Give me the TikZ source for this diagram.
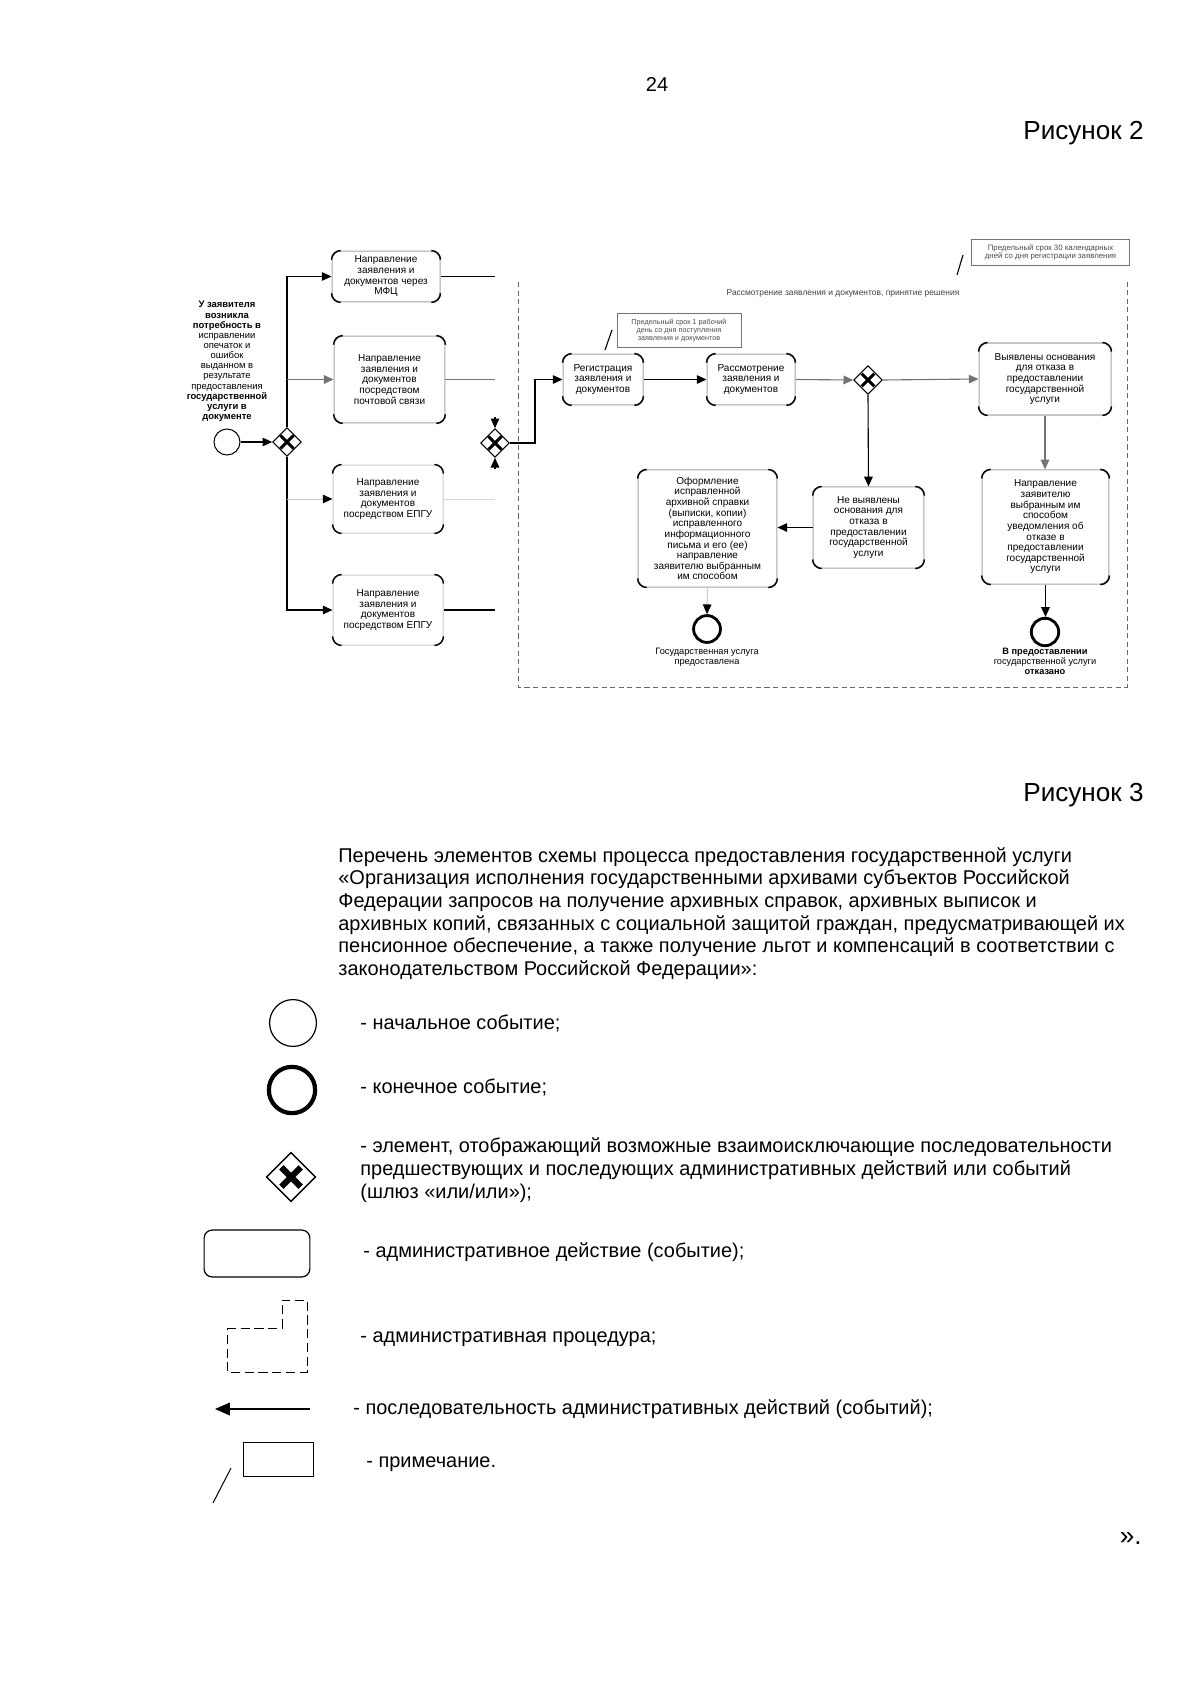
\documentclass[tikz,border=0pt]{standalone}
\usepackage{fontspec}
\setmainfont{Liberation Sans}
\usetikzlibrary{arrows.meta,shapes.geometric,calc}
\newcommand\bxr{1.6mm}
\newcommand\boxcorners[1]{%
  \draw[cornerline] ([yshift=-\bxr]#1.north west) arc[start angle=180,end angle=90,radius=\bxr];
  \draw[cornerline] ([xshift=-\bxr]#1.north east) arc[start angle=90,end angle=0,radius=\bxr];
  \draw[cornerline] ([yshift=\bxr]#1.south east) arc[start angle=0,end angle=-90,radius=\bxr];
  \draw[cornerline] ([xshift=\bxr]#1.south west) arc[start angle=270,end angle=180,radius=\bxr];}
% #1 node, #2 line width, #3 half extent
\newcommand\gwcross[3]{%
  \draw[line width=#2] ([xshift=-#3,yshift=-#3]#1.center) -- ([xshift=#3,yshift=#3]#1.center);
  \draw[line width=#2] ([xshift=-#3,yshift=#3]#1.center) -- ([xshift=#3,yshift=-#3]#1.center);}
\begin{document}
\begin{tikzpicture}[x=0.175mm,y=-0.175mm,
  act/.style={draw=black!35, line width=0.5pt, rounded corners=\bxr, align=center, inner sep=1pt,
    font=\fontsize{5}{5.3}\selectfont},
  cornerline/.style={line width=0.7pt, black},
  gw/.style={diamond, draw, line width=0.5pt, minimum width=5mm, minimum height=5mm, inner sep=0pt, aspect=1},
  flow/.style={line width=0.55pt, -{Triangle[length=1.7mm,width=1.5mm]}},
  flowgray/.style={flow, draw=black!55},
  flowfaint/.style={line width=0.5pt, draw=black!20, -{Triangle[length=1.7mm,width=1.5mm,color=black]}},
  plain/.style={line width=0.55pt},
  plaingray/.style={line width=0.55pt, draw=black!55},
  startev/.style={circle, draw, line width=0.5pt, inner sep=0pt},
  endev/.style={circle, draw, line width=1.4pt, inner sep=0pt},
  notebox/.style={draw=black!55, line width=0.5pt, align=center, inner sep=0.5pt},
  procline/.style={draw=black!60, line width=0.5pt, dash pattern=on 0.9mm off 0.6mm},
  legtext/.style={anchor=base west, inner sep=0pt, font=\fontsize{9.93}{11.3}\selectfont, align=left},
  lbl/.style={align=center, inner sep=0pt}
]
\useasboundingbox[fill=white] (0,0) rectangle (1200,1697);

% ---------- header ----------
\node[anchor=base, inner sep=0pt, font=\fontsize{10}{12}\selectfont] (pnum) at (657,92) {24};
\node[anchor=base east, inner sep=0pt, font=\fontsize{13}{15}\selectfont] (fig2) at (1144,140) {Рисунок 2};

% ---------- left part ----------
\node[lbl, font=\fontsize{4.7}{5.05}\selectfont] (need) at (227,361.5)
  {\textbf{У заявителя}\\\textbf{возникла}\\\textbf{потребность в}\\исправлении\\опечаток и\\ошибок\\выданном в\\результате\\предоставления\\\textbf{государственной}\\\textbf{услуги в}\\\textbf{документе}};
\node[startev, minimum size=4.55mm] (st) at (227,442) {};
\node[gw] (g1) at (287,442) {};
\gwcross{g1}{1.5pt}{1.15mm}

\node[act, minimum width=18.9mm, minimum height=8.9mm] (mfc) at (386,276.5)
  {Направление\\заявления и\\документов через\\МФЦ};
\node[act, minimum width=19.4mm, minimum height=15.2mm] (post) at (389.5,379.5)
  {Направление\\заявления  и\\документов\\посредством\\почтовой связи};
\node[act, minimum width=19.25mm, minimum height=11.9mm, draw=black!20] (epgu1) at (388,499)
  {Направление\\заявления и\\документов\\посредством ЕПГУ};
\node[act, minimum width=19.25mm, minimum height=12.25mm, draw=black!20] (epgu2) at (388,610)
  {Направление\\заявления и\\документов\\посредством ЕПГУ};
\foreach \b in {mfc,post,epgu1,epgu2} {\boxcorners{\b}}

\draw[flow] (st) -- (g1);
\draw[flow] (g1.north) |- (mfc.west);
\draw[flow] (g1.south) |- (epgu2.west);
\draw[flowgray] (g1.north |- post.west) -- (post.west);
\draw[flowfaint] (g1.south |- epgu1.west) -- (epgu1.west);

\coordinate (jx) at (495,0);
\coordinate (tx) at (535,0);
\node[gw] (g2) at (495,443) {};
\gwcross{g2}{1.5pt}{1.15mm}
\draw[plain] (mfc.east) -- (mfc.east -| jx);
\draw[plaingray] (post.east) -- (post.east -| jx);
\draw[line width=0.5pt, draw=black!15] (epgu1.east) -- (epgu1.east -| jx);
\draw[plain] (epgu2.east) -- (epgu2.east -| jx);
\draw[flow] ([yshift=2mm]g2.north) -- (g2.north);
\draw[flow] ([yshift=-2mm]g2.south) -- (g2.south);

% ---------- procedure ----------
\coordinate (pa) at (518,282);
\coordinate (pb) at (518,687);
\coordinate (pc) at (1127,687);
\coordinate (pd) at (1127,282);
\draw[procline] (pa) -- (pb) -- (pc) -- (pd);
\node[lbl, font=\fontsize{4.2}{5}\selectfont, text=black!75] (ptitle) at (843,293)
  {Рассмотрение заявления и документов, принятие решения};

\node[notebox, minimum width=21.7mm, minimum height=5.8mm, font=\fontsize{3.6}{3.8}\selectfont, text=black!70] (note1) at (679,330.5)
  {Предельный срок 1 рабочий\\день со дня поступления\\заявления и документов};
\coordinate (n1a) at (605,350);
\coordinate (n1b) at (612,330);
\draw[plain] (n1a) -- (n1b);

\node[notebox, minimum width=27.8mm, minimum height=4.4mm, font=\fontsize{3.9}{4.1}\selectfont, text=black!70] (note2) at (1050.5,252.5)
  {Предельный срок 30 календарных\\дней со дня регистрации заявления};
\coordinate (n2a) at (957,275);
\coordinate (n2b) at (963,255);
\draw[plain] (n2a) -- (n2b);

\node[act, minimum width=14mm, minimum height=8.9mm] (reg) at (603,379.5)
  {Регистрация\\заявления и\\документов};
\node[act, minimum width=15.4mm, minimum height=8.9mm] (rass) at (751,379.5)
  {Рассмотрение\\заявления и\\документов};
\node[gw] (g3) at (868,380) {};
\gwcross{g3}{1.5pt}{1.1mm}
\node[act, minimum width=23.1mm, minimum height=12.6mm] (vyav) at (1045,379)
  {Выявлены основания\\для отказа в\\предоставлении\\государственной\\услуги};
\node[act, minimum width=19.4mm, minimum height=14.2mm] (nevyav) at (868.5,527.5)
  {Не выявлены\\основания для\\отказа в\\предоставлении\\государственной\\услуги};
\node[act, minimum width=24.3mm, minimum height=20.5mm] (oform) at (707.5,528.5)
  {Оформление\\исправленной\\архивной справки\\(выписки, копии)\\исправленного\\информационного\\письма и его (ее)\\направление\\заявителю выбранным\\им способом};
\node[act, minimum width=22.2mm, minimum height=20mm] (napr) at (1045.5,527)
  {Направление\\заявителю\\выбранным им\\способом\\уведомления об\\отказе в\\предоставлении\\государственной\\услуги};
\foreach \b in {reg,rass,vyav,nevyav,oform,napr} {\boxcorners{\b}}

\node[endev, minimum size=4.7mm] (end1) at (707,629) {};
\node[endev, minimum size=4.8mm] (end2) at (1045,632) {};
\node[lbl, font=\fontsize{4.6}{5}\selectfont] (end1l) at (707,657)
  {Государственная услуга\\предоставлена};
\node[lbl, font=\fontsize{4.6}{5}\selectfont] (end2l) at (1045,661.5)
  {\textbf{В предоставлении}\\государственной услуги\\\textbf{отказано}};

\draw[flow] (g2.east) -- (g2.east -| tx) |- (reg.west);
\draw[flow] (reg.east) -- (rass.west);
\draw[flowgray] (rass.east) -- (g3.west);
\draw[flowgray] (g3.east) -- (vyav.west);
\draw[flow] (g3.south) -- (nevyav.north);
\draw[flow] (nevyav.west) -- (nevyav.west -| oform.east);
\draw[flowfaint] (oform.south) -- (end1.north);
\draw[flowgray] (vyav.south) -- (vyav.south |- napr.north);
\draw[flow] (napr.south) -- (napr.south |- end2.north);

% ---------- figure 3 ----------
\node[anchor=base east, inner sep=0pt, font=\fontsize{13}{15}\selectfont] (fig3) at (1144,801) {Рисунок 3};
% anchor base = baseline of the last line
\node[legtext] (intro) at (338,975.5)
  {Перечень элементов схемы процесса предоставления государственной услуги\\
   «Организация исполнения государственными архивами субъектов Российской\\
   Федерации запросов на получение архивных справок, архивных выписок и\\
   архивных копий, связанных с социальной защитой граждан, предусматривающей их\\
   пенсионное обеспечение, а также получение льгот и компенсаций в соответствии с\\
   законодательством Российской Федерации»:};

\node[startev, minimum size=8.2mm, line width=0.6pt] (lstart) at (293,1023) {};
\node[legtext] (t1) at (360,1029) {- начальное событие;};

\node[endev, minimum size=8.1mm, line width=2.1pt] (lend) at (292,1090) {};
\node[legtext] (t2) at (360,1093) {- конечное событие;};

\node[gw, minimum width=8.6mm, minimum height=8.6mm, line width=0.7pt] (lgw) at (291,1177) {};
\gwcross{lgw}{3pt}{1.7mm}
\node[legtext] (t3) at (360,1198)
  {- элемент, отображающий возможные взаимоисключающие последовательности\\
   предшествующих и последующих административных действий или событий\\
   (шлюз «или/или»);};

\node[draw, line width=0.6pt, rounded corners=1.4mm, minimum width=18.5mm, minimum height=8.2mm, inner sep=0pt] (lact) at (257,1253.5) {};
\node[legtext] (t4) at (363,1257) {- административное действие (событие);};

\coordinate (q1) at (227,1328);
\coordinate (q2) at (282,1328);
\coordinate (q3) at (282,1300);
\coordinate (q4) at (307,1300);
\coordinate (q5) at (307,1372);
\coordinate (q6) at (227,1372);
\draw[line width=0.5pt, dash pattern=on 1.6mm off 0.8mm] (q1) -- (q2) -- (q3) -- (q4) -- (q5) -- (q6) -- cycle;
\node[legtext] (t5) at (360,1342) {- административная процедура;};

\coordinate (la1) at (310,1409);
\coordinate (la2) at (215,1409);
\draw[line width=0.8pt, -{Triangle[length=2.6mm,width=2.2mm]}] (la1) -- (la2);
\node[legtext] (t6) at (353,1414) {- последовательность административных действий (событий);};

\node[draw, line width=0.5pt, minimum width=12.25mm, minimum height=6.1mm, inner sep=0pt] (lnote) at (278,1459.5) {};
\coordinate (ln1) at (231,1468);
\coordinate (ln2) at (213,1503);
\draw[line width=0.5pt] (ln1) -- (ln2);
\node[legtext] (t7) at (366,1467) {- примечание.};

\node[anchor=base east, inner sep=0pt, font=\fontsize{13}{15}\selectfont] (endq) at (1142,1544) {».};
\end{tikzpicture}
\end{document}
